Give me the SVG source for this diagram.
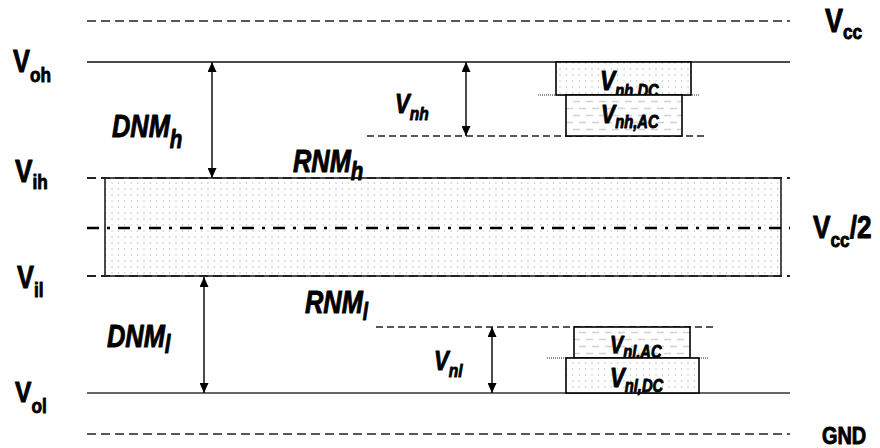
<svg xmlns="http://www.w3.org/2000/svg" width="880" height="448" viewBox="0 0 880 448">
<style>
  .lbl{font-family:"Liberation Sans",Arial,sans-serif;font-weight:bold;fill:#000;stroke:#000;stroke-width:0.9;stroke-linejoin:round}
  .it{font-style:italic}
  .dash{stroke:#222;stroke-width:1.4;stroke-dasharray:9,5;fill:none}
  .sdash{stroke:#222;stroke-width:1.3;stroke-dasharray:7,4;fill:none}
  .solid{stroke:#111;stroke-width:1.6;fill:none}
  .dot{stroke:#222;stroke-width:1;stroke-dasharray:1,1;fill:none}
  .arrow{stroke:#111;stroke-width:1.5;fill:none;marker-start:url(#ah);marker-end:url(#ah)}
  .box{stroke:#000;stroke-width:1.6}
</style>
<defs>
  <marker id="ah" markerUnits="userSpaceOnUse" markerWidth="10" markerHeight="9" refX="10" refY="4.5" orient="auto-start-reverse">
    <path d="M0,0 L10,4.5 L0,9 z" fill="#000"/>
  </marker>
  <pattern id="dots" patternUnits="userSpaceOnUse" width="6.4" height="6">
    <rect width="6.4" height="6" fill="#fff"/>
    <rect x="2.7" y="2.5" width="1" height="1" fill="#9a9a9a"/>
  </pattern>
  <pattern id="hdash" patternUnits="userSpaceOnUse" width="13" height="14">
    <rect width="13" height="14" fill="#fff"/>
    <line x1="1" y1="3.5" x2="8" y2="3.5" stroke="#d2d2d2" stroke-width="1.5"/>
    <line x1="7" y1="10.5" x2="13" y2="10.5" stroke="#d2d2d2" stroke-width="1.5"/>
    <line x1="0" y1="10.5" x2="1" y2="10.5" stroke="#d2d2d2" stroke-width="1.5"/>
  </pattern>
</defs>

<g id="threshold-band">
  <rect x="105" y="178" width="676" height="98" fill="url(#dots)" stroke="#000" stroke-width="1.4"/>
</g>

<g id="levels">
  <line id="vcc-line" class="dash" x1="87" y1="21" x2="790" y2="21"/>
  <line id="voh-line" class="solid" x1="87" y1="62" x2="790" y2="62"/>
  <line id="vih-line" class="dash" x1="87" y1="178" x2="790" y2="178" style="stroke-width:1.8"/>
  <line id="mid-line" x1="87" y1="228" x2="790" y2="228" stroke="#000" stroke-width="2.6" stroke-dasharray="12,8,3,8"/>
  <line id="vil-line" class="dash" x1="87" y1="276" x2="790" y2="276" style="stroke-width:1.8"/>
  <line id="vnh-line" class="sdash" x1="367" y1="136" x2="708" y2="136"/>
  <line id="vnl-line" class="sdash" x1="376" y1="327" x2="717" y2="327"/>
  <line id="vol-line" class="solid" x1="87" y1="393" x2="790" y2="393" style="stroke:#333"/>
  <line id="gnd-line" class="dash" x1="87" y1="434" x2="790" y2="434"/>
  <line class="dot" x1="538" y1="95" x2="699" y2="95"/>
  <line class="dot" x1="547" y1="358" x2="709" y2="358"/>
</g>

<g id="vnh-dc">
  <rect class="box" x="556" y="62" width="135" height="33" fill="url(#dots)"/>
  <text class="lbl it" transform="translate(600,90) scale(0.82,1)"><tspan font-size="28">V</tspan><tspan font-size="18" dy="7">nh,DC</tspan></text>
</g>
<g id="vnh-ac">
  <rect class="box" x="566" y="95" width="116" height="41" fill="url(#hdash)"/>
  <text class="lbl it" transform="translate(601,123) scale(0.82,1)"><tspan font-size="26">V</tspan><tspan font-size="18" dy="5">nh,AC</tspan></text>
</g>
<g id="vnl-ac">
  <rect class="box" x="574" y="327" width="116" height="31" fill="url(#hdash)"/>
  <text class="lbl it" transform="translate(610,353) scale(0.82,1)"><tspan font-size="24">V</tspan><tspan font-size="18" dy="5">nl,AC</tspan></text>
</g>
<g id="vnl-dc">
  <rect class="box" x="566" y="358" width="133" height="35" fill="url(#dots)"/>
  <text class="lbl it" transform="translate(610,387) scale(0.82,1)"><tspan font-size="27">V</tspan><tspan font-size="18" dy="5">nl,DC</tspan></text>
</g>

<g id="connectors">
  <line id="dnmh-arrow" class="arrow" x1="212" y1="62" x2="212" y2="178"/>
  <line id="vnh-arrow" class="arrow" x1="466" y1="62" x2="466" y2="136"/>
  <line id="dnml-arrow" class="arrow" x1="204" y1="277" x2="204" y2="393"/>
  <line id="vnl-arrow" class="arrow" x1="492" y1="327" x2="492" y2="393"/>
</g>

<g id="labels">
  <text id="lbl-voh" class="lbl" transform="translate(13,72) scale(0.82,1)"><tspan font-size="31">V</tspan><tspan font-size="21" dy="10">oh</tspan></text>
  <text id="lbl-vih" class="lbl" transform="translate(15,182) scale(0.82,1)"><tspan font-size="32">V</tspan><tspan font-size="21" dy="7">ih</tspan></text>
  <text id="lbl-vil" class="lbl" transform="translate(17,288) scale(0.82,1)"><tspan font-size="31">V</tspan><tspan font-size="21" dy="9">il</tspan></text>
  <text id="lbl-vol" class="lbl" transform="translate(15,402) scale(0.82,1)"><tspan font-size="30">V</tspan><tspan font-size="21" dy="11">ol</tspan></text>
  <text id="lbl-vcc" class="lbl" transform="translate(825,32) scale(0.82,1)"><tspan font-size="33">V</tspan><tspan font-size="21" dy="7">cc</tspan></text>
  <text id="lbl-vcc2" class="lbl" transform="translate(813,238) scale(0.82,1)"><tspan font-size="32">V</tspan><tspan font-size="21" dy="9">cc</tspan><tspan font-size="32" dy="-9">/2</tspan></text>
  <text id="lbl-gnd" class="lbl" font-size="24" transform="translate(822,444) scale(0.83,1)">GND</text>
  <text id="lbl-dnmh" class="lbl it" transform="translate(112,137) scale(0.82,1)"><tspan font-size="31">DNM</tspan><tspan font-size="25" dy="11">h</tspan></text>
  <text id="lbl-dnml" class="lbl it" transform="translate(107,347) scale(0.82,1)"><tspan font-size="31">DNM</tspan><tspan font-size="25" dy="6">l</tspan></text>
  <text id="lbl-rnmh" class="lbl it" transform="translate(293,172) scale(0.82,1)"><tspan font-size="31">RNM</tspan><tspan font-size="25" dy="8">h</tspan></text>
  <text id="lbl-rnml" class="lbl it" transform="translate(305,313) scale(0.82,1)"><tspan font-size="31">RNM</tspan><tspan font-size="23" dy="7">l</tspan></text>
  <text id="lbl-vnh" class="lbl it" transform="translate(395,113) scale(0.82,1)"><tspan font-size="27">V</tspan><tspan font-size="19" dy="7">nh</tspan></text>
  <text id="lbl-vnl" class="lbl it" transform="translate(434,370) scale(0.82,1)"><tspan font-size="27">V</tspan><tspan font-size="19" dy="7">nl</tspan></text>
</g>
</svg>
